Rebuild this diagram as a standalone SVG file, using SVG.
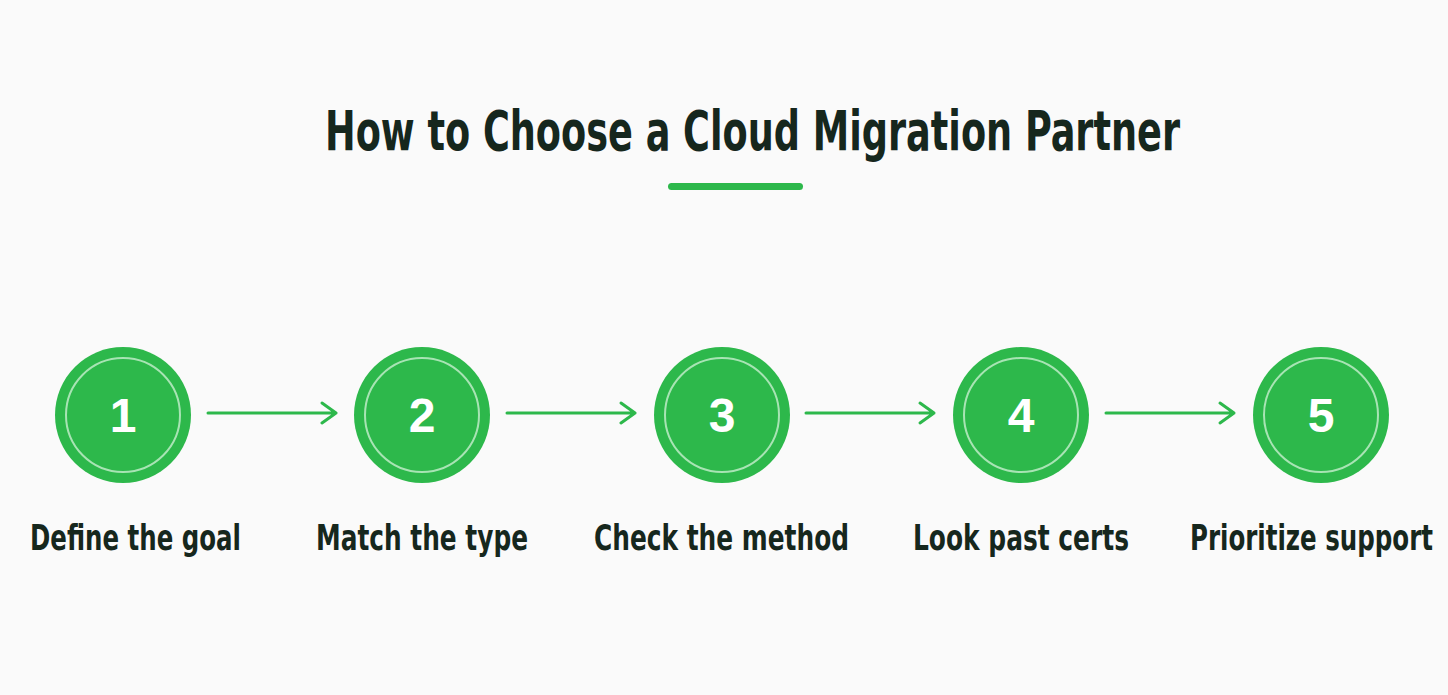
<svg xmlns="http://www.w3.org/2000/svg" width="1448" height="695" viewBox="0 0 1448 695">
<defs>
<style>
.title{font-family:"Liberation Sans Narrow","DejaVu Sans Condensed","Liberation Sans",sans-serif;font-weight:bold;font-size:56px;fill:#16271d}
.lbl{font-family:"Liberation Sans Narrow","DejaVu Sans Condensed","Liberation Sans",sans-serif;font-weight:bold;font-size:36px;fill:#16271d}
.num{font-family:"Liberation Sans","Arial",sans-serif;font-weight:bold;font-size:48px;fill:#ffffff;text-anchor:middle}
.outer{fill:#2db84b}
.inner{fill:none;stroke:#a8e4b4;stroke-width:2}
.conn{stroke:#2db84b;stroke-width:3;fill:none;stroke-linecap:round;stroke-linejoin:round}
</style>
</defs>
<rect width="1448" height="695" fill="#fafafa"/>
<g id="title">
<text class="title" x="325" y="150" textLength="855" lengthAdjust="spacingAndGlyphs">How to Choose a Cloud Migration Partner</text>
<rect x="668" y="183" width="135" height="7" rx="3.5" fill="#2db84b"/>
</g>
<g id="connectors">
<path class="conn" d="M208 413H336M322 403L336 413L322 423"/>
<path class="conn" d="M507 413H635M621 403L635 413L621 423"/>
<path class="conn" d="M806 413H934M920 403L934 413L920 423"/>
<path class="conn" d="M1106 413H1234M1220 403L1234 413L1220 423"/>
</g>
<g id="node1">
<circle class="outer" cx="123" cy="415" r="68"/><circle class="inner" cx="123" cy="415" r="57"/>
<text class="num" x="123" y="432">1</text>
<text class="lbl" x="30" y="550" textLength="211" lengthAdjust="spacingAndGlyphs">Define the goal</text>
</g>
<g id="node2">
<circle class="outer" cx="422" cy="415" r="68"/><circle class="inner" cx="422" cy="415" r="57"/>
<text class="num" x="422" y="432">2</text>
<text class="lbl" x="316" y="550" textLength="212" lengthAdjust="spacingAndGlyphs">Match the type</text>
</g>
<g id="node3">
<circle class="outer" cx="722" cy="415" r="68"/><circle class="inner" cx="722" cy="415" r="57"/>
<text class="num" x="722" y="432">3</text>
<text class="lbl" x="594" y="550" textLength="255" lengthAdjust="spacingAndGlyphs">Check the method</text>
</g>
<g id="node4">
<circle class="outer" cx="1021" cy="415" r="68"/><circle class="inner" cx="1021" cy="415" r="57"/>
<text class="num" x="1021" y="432">4</text>
<text class="lbl" x="913" y="550" textLength="216" lengthAdjust="spacingAndGlyphs">Look past certs</text>
</g>
<g id="node5">
<circle class="outer" cx="1321" cy="415" r="68"/><circle class="inner" cx="1321" cy="415" r="57"/>
<text class="num" x="1321" y="432">5</text>
<text class="lbl" x="1190" y="550" textLength="243" lengthAdjust="spacingAndGlyphs">Prioritize support</text>
</g>
</svg>
